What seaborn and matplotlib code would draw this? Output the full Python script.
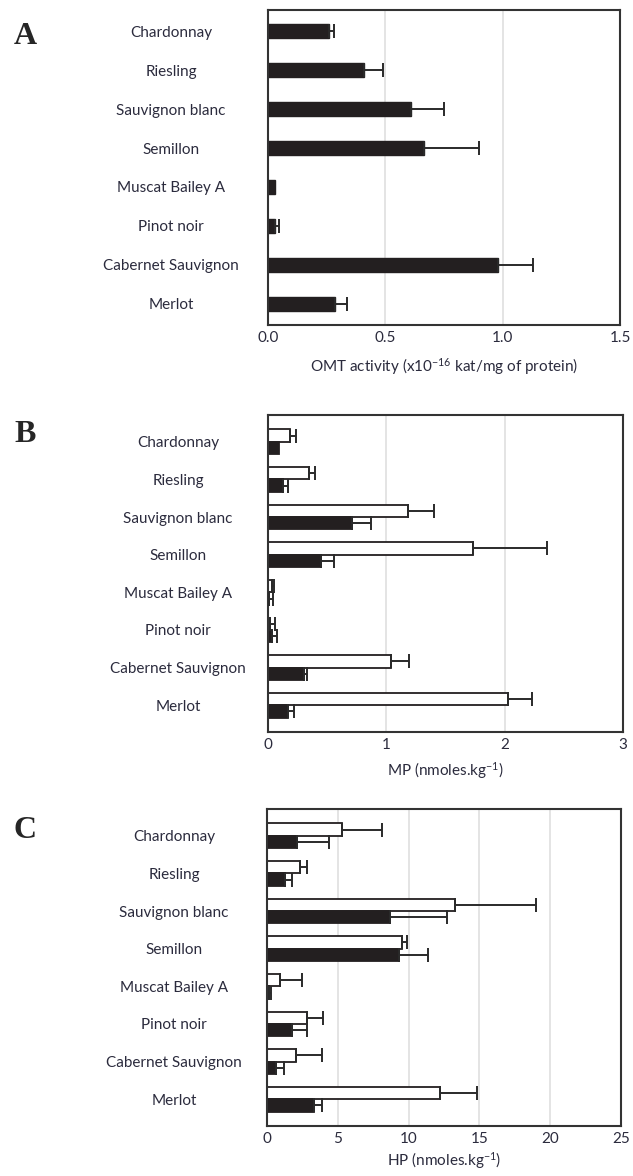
import matplotlib
matplotlib.use("Agg")
import matplotlib.pyplot as plt
import seaborn as sns
import pandas as pd

cultivares = ["Chardonnay", "Riesling", "Sauvignon blanc", "Semillon",
              "Muscat Bailey A", "Pinot noir", "Cabernet Sauvignon", "Merlot"]

# A - OMT activity
omt = [0.26, 0.41, 0.61, 0.665, 0.03, 0.028, 0.98, 0.287]
omt_err = [0.02, 0.08, 0.14, 0.235, 0.0, 0.019, 0.15, 0.048]

# B - MP (white bars / black bars)
mp_branco = [0.19, 0.35, 1.18, 1.73, 0.03, 0.02, 1.04, 2.03]
mp_branco_err = [0.05, 0.05, 0.22, 0.63, 0.02, 0.04, 0.15, 0.20]
mp_preto = [0.09, 0.125, 0.71, 0.45, 0.01, 0.03, 0.30, 0.17]
mp_preto_err = [0.0, 0.045, 0.16, 0.11, 0.035, 0.05, 0.03, 0.05]

# C - HP
hp_branco = [5.3, 2.36, 13.3, 9.55, 0.9, 2.83, 2.05, 12.2]
hp_branco_err = [2.8, 0.44, 5.7, 0.35, 1.6, 1.13, 1.8, 2.6]
hp_preto = [2.1, 1.25, 8.7, 9.3, 0.17, 1.8, 0.64, 3.3]
hp_preto_err = [2.3, 0.52, 4.0, 2.1, 0.11, 1.0, 0.54, 0.55]

PRETO = "#231f20"
TEXTO = "#2b2b3d"
FS = 11

sns.set_style("white")
plt.rcParams["font.family"] = ["Lato", "DejaVu Sans"]
plt.rcParams["mathtext.default"] = "regular"

fig = plt.figure(figsize=(6.33, 11.76), dpi=100)


def erros(ax, container, valores, errs):
    for barra, v, e in zip(container, valores, errs):
        if e <= 0:
            continue
        yc = barra.get_y() + barra.get_height() / 2
        ax.errorbar(x=[v], y=[yc], xerr=[[0], [e]], fmt="none", ecolor="#2a2a2a",
                    elinewidth=1.4, capsize=4.8, capthick=1.4, zorder=3)


def acabamento(ax, ticks, ticklabels, xlim, xlabel, pad_px, labelpad=8):
    ax.set_xlim(*xlim)
    ax.set_xticks(ticks)
    ax.set_xticklabels(ticklabels)
    ax.set_xlabel(xlabel, fontsize=FS, color=TEXTO, labelpad=labelpad)
    ax.set_ylabel("")
    ax.set_axisbelow(True)
    ax.xaxis.grid(True, color="#e2e2e2", linewidth=1.3)
    ax.yaxis.grid(False)
    for s in ax.spines.values():
        s.set_visible(True)
        s.set_color("#333333")
        s.set_linewidth(1.5)
    ax.tick_params(axis="x", length=0, pad=4, labelsize=FS, labelcolor=TEXTO)
    ax.tick_params(axis="y", length=0, pad=pad_px * 0.72, labelsize=FS, labelcolor=TEXTO)
    for t in ax.get_yticklabels():
        t.set_horizontalalignment("center")


# ---- A ----
axA = fig.add_axes([268 / 633, 1 - 325 / 1176, 352 / 633, 315 / 1176])
dfA = pd.DataFrame({"cultivar": cultivares, "omt": omt})
sns.barplot(data=dfA, x="omt", y="cultivar", orient="h", color=PRETO, saturation=1,
            width=0.35, edgecolor=PRETO, linewidth=1, ax=axA)
erros(axA, axA.containers[0], omt, omt_err)
acabamento(axA, [0, 0.5, 1.0, 1.5], ["0.0", "0.5", "1.0", "1.5"], (0, 1.5),
           r"OMT activity (x10$^{-16}$ kat/mg of protein)", 97)


# ---- B e C ----
def painel(pos, branco, branco_err, preto, preto_err, ticks, xlim, xlabel, pad_px, labelpad):
    ax = fig.add_axes(pos)
    df = pd.DataFrame({
        "cultivar": cultivares * 2,
        "valor": branco + preto,
        "tipo": ["branco"] * len(cultivares) + ["preto"] * len(cultivares),
    })
    sns.barplot(data=df, x="valor", y="cultivar", hue="tipo", orient="h",
                hue_order=["branco", "preto"],
                palette={"branco": "white", "preto": PRETO}, saturation=1,
                width=0.66, edgecolor=PRETO, linewidth=1.3, legend=False, ax=ax)
    erros(ax, ax.containers[0], branco, branco_err)
    erros(ax, ax.containers[1], preto, preto_err)
    acabamento(ax, ticks, [str(t) for t in ticks], xlim, xlabel, pad_px, labelpad)
    return ax


painel([268 / 633, 1 - 732 / 1176, 355 / 633, 317 / 1176],
       mp_branco, mp_branco_err, mp_preto, mp_preto_err,
       [0, 1, 2, 3], (0, 3), r"MP (nmoles.kg$^{-1}$)", 90, 6)
painel([267 / 633, 1 - 1126 / 1176, 354 / 633, 317 / 1176],
       hp_branco, hp_branco_err, hp_preto, hp_preto_err,
       [0, 5, 10, 15, 20, 25], (0, 25), r"HP (nmoles.kg$^{-1}$)", 93, 3)

for letra, y in [("A", 37), ("B", 434), ("C", 831)]:
    fig.text(25 / 633, 1 - y / 1176, letra, family="Liberation Serif", weight="bold",
             fontsize=23, ha="center", va="center")

fig.savefig("out.png", dpi=100)
